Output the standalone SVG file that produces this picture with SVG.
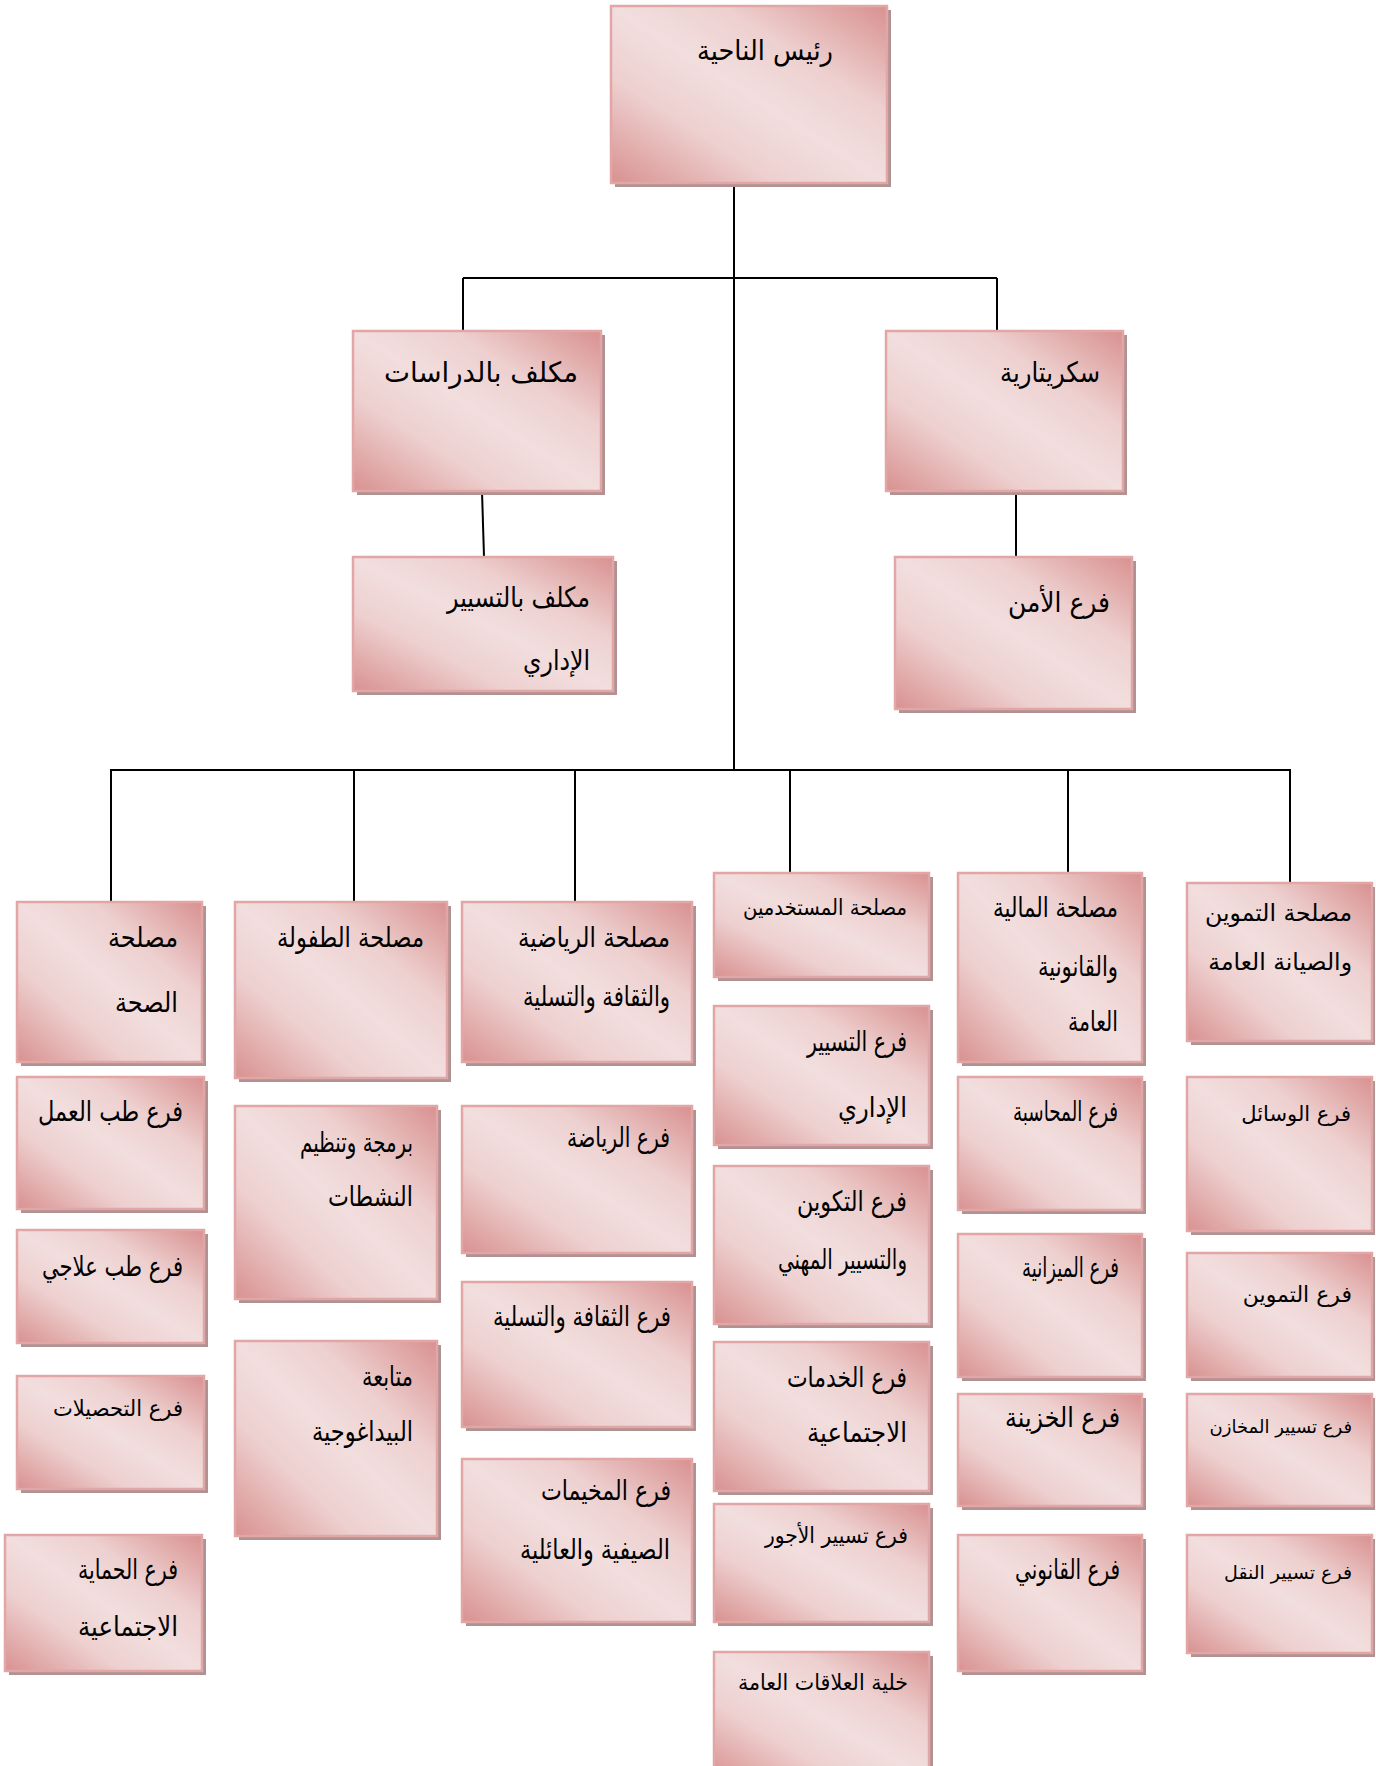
<svg xmlns="http://www.w3.org/2000/svg" width="1376" height="1766" viewBox="0 0 1376 1766">
  <defs>
    <linearGradient id="boxFill" x1="1" y1="0" x2="0" y2="1">
      <stop offset="0" stop-color="#d89190"/>
      <stop offset="0.3" stop-color="#edd0cf"/>
      <stop offset="0.5" stop-color="#f2dede"/>
      <stop offset="0.7" stop-color="#edd0cf"/>
      <stop offset="1" stop-color="#d89190"/>
    </linearGradient>
  </defs>
  <style>
    .shadow { fill: #b09292; }
    .box { fill: url(#boxFill); stroke: #e2a6a6; stroke-width: 2.5; }
    .link { stroke: #000; stroke-width: 2; fill: none; }
    text { font-family: "DejaVu Sans", sans-serif; font-size: 28px; fill: #000; text-anchor: end; }
    text.sm { font-size: 22px; }
    text.f24 { font-size: 23.5px; }
    text.f21 { font-size: 21px; }
    text.f22 { font-size: 22px; }
    text.f19 { font-size: 19px; }
    text.f18 { font-size: 18px; }
  </style>

  <!-- connectors -->
  <g id="connectors">
    <line class="link" x1="734" y1="183" x2="734" y2="770"/>
    <line class="link" x1="463" y1="278" x2="997" y2="278"/>
    <line class="link" x1="463" y1="278" x2="463" y2="331"/>
    <line class="link" x1="997" y1="278" x2="997" y2="331"/>
    <line class="link" x1="482" y1="491" x2="484" y2="557"/>
    <line class="link" x1="1016" y1="491" x2="1016" y2="557"/>
    <line class="link" x1="110" y1="770" x2="1291" y2="770"/>
    <line class="link" x1="111" y1="770" x2="111" y2="902"/>
    <line class="link" x1="354" y1="770" x2="354" y2="902"/>
    <line class="link" x1="575" y1="770" x2="575" y2="902"/>
    <line class="link" x1="790" y1="770" x2="790" y2="873"/>
    <line class="link" x1="1068" y1="770" x2="1068" y2="873"/>
    <line class="link" x1="1290" y1="770" x2="1290" y2="883"/>
  </g>

  <!-- top level -->
  <g id="n-head">
    <rect class="shadow" x="615" y="10" width="276" height="177"/>
    <rect class="box" x="611" y="6" width="276" height="177"/>
    <text x="833" y="60" textLength="136" lengthAdjust="spacingAndGlyphs">رئيس الناحية</text>
  </g>
  <g id="n-studies">
    <rect class="shadow" x="357" y="335" width="248" height="160"/>
    <rect class="box" x="353" y="331" width="248" height="160"/>
    <text x="578" y="382" textLength="194" lengthAdjust="spacingAndGlyphs">مكلف  بالدراسات</text>
  </g>
  <g id="n-secretariat">
    <rect class="shadow" x="890" y="335" width="237" height="160"/>
    <rect class="box" x="886" y="331" width="237" height="160"/>
    <text x="1100" y="382" textLength="100" lengthAdjust="spacingAndGlyphs">سكريتارية</text>
  </g>
  <g id="n-admin-officer">
    <rect class="shadow" x="357" y="561" width="260" height="134"/>
    <rect class="box" x="353" y="557" width="260" height="134"/>
    <text x="590" y="607" textLength="143" lengthAdjust="spacingAndGlyphs">مكلف بالتسيير</text>
    <text x="590" y="670" textLength="67" lengthAdjust="spacingAndGlyphs">الإداري</text>
  </g>
  <g id="n-security">
    <rect class="shadow" x="899" y="561" width="237" height="152"/>
    <rect class="box" x="895" y="557" width="237" height="152"/>
    <text x="1110" y="612" textLength="102" lengthAdjust="spacingAndGlyphs">فرع الأمن</text>
  </g>

  <!-- services -->
  <g id="n-health">
    <rect class="shadow" x="21" y="906" width="185" height="160"/>
    <rect class="box" x="17" y="902" width="185" height="160"/>
    <text x="178" y="947" textLength="70" lengthAdjust="spacingAndGlyphs">مصلحة</text>
    <text x="178" y="1012" textLength="63" lengthAdjust="spacingAndGlyphs">الصحة</text>
  </g>
  <g id="n-childhood">
    <rect class="shadow" x="239" y="906" width="212" height="176"/>
    <rect class="box" x="235" y="902" width="212" height="176"/>
    <text x="424" y="947" textLength="147" lengthAdjust="spacingAndGlyphs">مصلحة الطفولة</text>
  </g>
  <g id="n-sports-service">
    <rect class="shadow" x="466" y="906" width="230" height="160"/>
    <rect class="box" x="462" y="902" width="230" height="160"/>
    <text x="670" y="947" textLength="152" lengthAdjust="spacingAndGlyphs">مصلحة الرياضية</text>
    <text x="670" y="1006" textLength="147" lengthAdjust="spacingAndGlyphs">والثقافة والتسلية</text>
  </g>
  <g id="n-staff">
    <rect class="shadow" x="718" y="877" width="215" height="104"/>
    <rect class="box" x="714" y="873" width="215" height="104"/>
    <text class="sm" x="907" y="915" textLength="164" lengthAdjust="spacingAndGlyphs">مصلحة المستخدمين</text>
  </g>
  <g id="n-finance">
    <rect class="shadow" x="962" y="877" width="184" height="189"/>
    <rect class="box" x="958" y="873" width="184" height="189"/>
    <text x="1118" y="917" textLength="125" lengthAdjust="spacingAndGlyphs">مصلحة المالية</text>
    <text x="1118" y="976" textLength="80" lengthAdjust="spacingAndGlyphs">والقانونية</text>
    <text x="1118" y="1031" textLength="50" lengthAdjust="spacingAndGlyphs">العامة</text>
  </g>
  <g id="n-supply">
    <rect class="shadow" x="1191" y="887" width="184" height="158"/>
    <rect class="box" x="1187" y="883" width="185" height="158"/>
    <text class="f24" x="1352" y="921">مصلحة التموين</text>
    <text class="f24" x="1352" y="970">والصيانة العامة</text>
  </g>

  <!-- health branches -->
  <g id="n-occupational">
    <rect class="shadow" x="21" y="1081" width="187" height="132"/>
    <rect class="box" x="17" y="1077" width="187" height="132"/>
    <text x="183" y="1121" textLength="145" lengthAdjust="spacingAndGlyphs">فرع طب العمل</text>
  </g>
  <g id="n-therapeutic">
    <rect class="shadow" x="21" y="1234" width="187" height="113"/>
    <rect class="box" x="17" y="1230" width="187" height="113"/>
    <text x="183" y="1276" textLength="141" lengthAdjust="spacingAndGlyphs">فرع طب علاجي</text>
  </g>
  <g id="n-collections">
    <rect class="shadow" x="21" y="1380" width="187" height="113"/>
    <rect class="box" x="17" y="1376" width="187" height="113"/>
    <text class="sm" x="183" y="1416" textLength="130" lengthAdjust="spacingAndGlyphs">فرع التحصيلات</text>
  </g>
  <g id="n-protection">
    <rect class="shadow" x="9" y="1539" width="197" height="136"/>
    <rect class="box" x="5" y="1535" width="197" height="136"/>
    <text x="178" y="1579" textLength="100" lengthAdjust="spacingAndGlyphs">فرع الحماية</text>
    <text x="178" y="1636" textLength="100" lengthAdjust="spacingAndGlyphs">الاجتماعية</text>
  </g>

  <!-- childhood branches -->
  <g id="n-programming">
    <rect class="shadow" x="239" y="1110" width="202" height="193"/>
    <rect class="box" x="235" y="1106" width="202" height="193"/>
    <text x="413" y="1152" textLength="113" lengthAdjust="spacingAndGlyphs">برمجة وتنظيم</text>
    <text x="413" y="1206" textLength="85" lengthAdjust="spacingAndGlyphs">النشطات</text>
  </g>
  <g id="n-pedagogy">
    <rect class="shadow" x="239" y="1345" width="202" height="195"/>
    <rect class="box" x="235" y="1341" width="202" height="195"/>
    <text x="413" y="1386" textLength="51" lengthAdjust="spacingAndGlyphs">متابعة</text>
    <text x="413" y="1441" textLength="101" lengthAdjust="spacingAndGlyphs">البيداغوجية</text>
  </g>

  <!-- sports branches -->
  <g id="n-sports">
    <rect class="shadow" x="466" y="1110" width="230" height="147"/>
    <rect class="box" x="462" y="1106" width="230" height="147"/>
    <text x="670" y="1147" textLength="103" lengthAdjust="spacingAndGlyphs">فرع الرياضة</text>
  </g>
  <g id="n-culture">
    <rect class="shadow" x="466" y="1286" width="230" height="145"/>
    <rect class="box" x="462" y="1282" width="230" height="145"/>
    <text x="671" y="1326" textLength="178" lengthAdjust="spacingAndGlyphs">فرع الثقافة والتسلية</text>
  </g>
  <g id="n-camps">
    <rect class="shadow" x="466" y="1463" width="230" height="163"/>
    <rect class="box" x="462" y="1459" width="230" height="163"/>
    <text x="671" y="1500" textLength="130" lengthAdjust="spacingAndGlyphs">فرع المخيمات</text>
    <text x="670" y="1559" textLength="150" lengthAdjust="spacingAndGlyphs">الصيفية والعائلية</text>
  </g>

  <!-- staff branches -->
  <g id="n-admin-mgmt">
    <rect class="shadow" x="718" y="1010" width="215" height="139"/>
    <rect class="box" x="714" y="1006" width="215" height="139"/>
    <text x="907" y="1051" textLength="100" lengthAdjust="spacingAndGlyphs">فرع التسيير</text>
    <text x="907" y="1117" textLength="69" lengthAdjust="spacingAndGlyphs">الإداري</text>
  </g>
  <g id="n-training">
    <rect class="shadow" x="718" y="1170" width="215" height="158"/>
    <rect class="box" x="714" y="1166" width="215" height="158"/>
    <text x="907" y="1211" textLength="110" lengthAdjust="spacingAndGlyphs">فرع التكوين</text>
    <text x="907" y="1269" textLength="129" lengthAdjust="spacingAndGlyphs">والتسيير المهني</text>
  </g>
  <g id="n-social">
    <rect class="shadow" x="718" y="1346" width="215" height="149"/>
    <rect class="box" x="714" y="1342" width="215" height="149"/>
    <text x="907" y="1387" textLength="120" lengthAdjust="spacingAndGlyphs">فرع الخدمات</text>
    <text x="907" y="1442" textLength="100" lengthAdjust="spacingAndGlyphs">الاجتماعية</text>
  </g>
  <g id="n-wages">
    <rect class="shadow" x="718" y="1508" width="215" height="118"/>
    <rect class="box" x="714" y="1504" width="215" height="118"/>
    <text class="sm" x="908" y="1543" textLength="143" lengthAdjust="spacingAndGlyphs">فرع تسيير الأجور</text>
  </g>
  <g id="n-public-relations">
    <rect class="shadow" x="718" y="1656" width="215" height="110"/>
    <rect class="box" x="714" y="1652" width="215" height="128"/>
    <text class="sm" x="908" y="1690" textLength="170" lengthAdjust="spacingAndGlyphs">خلية العلاقات العامة</text>
  </g>

  <!-- finance branches -->
  <g id="n-accounting">
    <rect class="shadow" x="962" y="1081" width="184" height="133"/>
    <rect class="box" x="958" y="1077" width="184" height="133"/>
    <text x="1118" y="1121" textLength="105" lengthAdjust="spacingAndGlyphs">فرع المحاسبة</text>
  </g>
  <g id="n-budget">
    <rect class="shadow" x="962" y="1238" width="184" height="143"/>
    <rect class="box" x="958" y="1234" width="184" height="143"/>
    <text x="1119" y="1277" textLength="97" lengthAdjust="spacingAndGlyphs">فرع الميزانية</text>
  </g>
  <g id="n-treasury">
    <rect class="shadow" x="962" y="1398" width="184" height="112"/>
    <rect class="box" x="958" y="1394" width="184" height="112"/>
    <text x="1120" y="1427" textLength="115" lengthAdjust="spacingAndGlyphs">فرع الخزينة</text>
  </g>
  <g id="n-legal">
    <rect class="shadow" x="962" y="1539" width="184" height="136"/>
    <rect class="box" x="958" y="1535" width="184" height="136"/>
    <text x="1120" y="1579" textLength="105" lengthAdjust="spacingAndGlyphs">فرع القانوني</text>
  </g>

  <!-- supply branches -->
  <g id="n-means">
    <rect class="shadow" x="1191" y="1081" width="184" height="154"/>
    <rect class="box" x="1187" y="1077" width="185" height="154"/>
    <text class="f21" x="1351" y="1121">فرع الوسائل</text>
  </g>
  <g id="n-provisioning">
    <rect class="shadow" x="1191" y="1257" width="184" height="124"/>
    <rect class="box" x="1187" y="1253" width="185" height="124"/>
    <text class="f22" x="1352" y="1302">فرع التموين</text>
  </g>
  <g id="n-stores">
    <rect class="shadow" x="1191" y="1398" width="184" height="112"/>
    <rect class="box" x="1187" y="1394" width="185" height="112"/>
    <text class="f18" x="1352" y="1433">فرع تسيير المخازن</text>
  </g>
  <g id="n-transport">
    <rect class="shadow" x="1191" y="1539" width="184" height="118"/>
    <rect class="box" x="1187" y="1535" width="185" height="118"/>
    <text class="f19" x="1352" y="1579">فرع تسيير النقل</text>
  </g>
</svg>
